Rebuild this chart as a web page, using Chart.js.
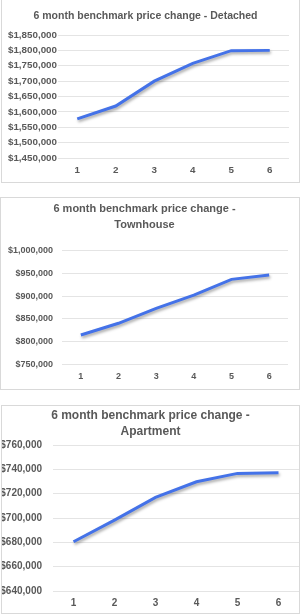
<!DOCTYPE html>
<html lang="en">
<head>
    <meta charset="UTF-8">
    <title>6 month benchmark price change</title>
    <script src="https://cdn.jsdelivr.net/npm/chart.js"></script>
    <style>
        body {
            margin: 0;
            background: #fff;
            font-family: "Liberation Sans", Arial, sans-serif;
        }
        .box {
            position: absolute;
            box-sizing: border-box;
            border: 1px solid #d9d9d9;
            background: #fff;
        }
        .box canvas {
            display: block;
        }
    </style>
</head>
<body>
    <div class="box" style="left:1px; top:-1px; width:299px; height:184px;">
        <canvas id="detachedChart" width="297" height="182"></canvas>
    </div>
    <div class="box" style="left:0px; top:197px; width:300px; height:193px;">
        <canvas id="townhouseChart" width="298" height="191"></canvas>
    </div>
    <div class="box" style="left:1px; top:405px; width:299px; height:209px;">
        <canvas id="apartmentChart" width="297" height="207"></canvas>
    </div>

    <script>
        // months on the x axis
        const months = ['1', '2', '3', '4', '5', '6'];

        // benchmark prices
        const detached = [1577000, 1619000, 1700000, 1758000, 1799000, 1800000];
        const townhouse = [815000, 840500, 873000, 902000, 936500, 946000];
        const apartment = [680500, 698300, 717000, 729800, 736700, 737200];

        // y axis range: min, max, step
        const detachedAxis = [1450000, 1850000, 50000];
        const townhouseAxis = [750000, 1000000, 50000];
        const apartmentAxis = [640000, 760000, 20000];

        const textColor = '#595959';
        const lineColor = '#4472e8';

        // soft drop shadow under the line, like the Excel chart
        const lineShadow = {
            id: 'lineShadow',
            beforeDatasetsDraw(chart) {
                const ctx = chart.ctx;
                ctx.save();
                ctx.shadowColor = 'rgba(0, 0, 0, 0.35)';
                ctx.shadowBlur = 3;
                ctx.shadowOffsetX = 1;
                ctx.shadowOffsetY = 2;
            },
            afterDatasetsDraw(chart) {
                chart.ctx.restore();
            }
        };

        function makeChart(id, title, values, axis, cfg) {
            return new Chart(document.getElementById(id), {
                type: 'line',
                data: {
                    labels: months,
                    datasets: [{
                        data: values,
                        borderColor: lineColor,
                        borderWidth: 3,
                        pointRadius: 0,
                        tension: 0,
                        fill: false
                    }]
                },
                options: {
                    responsive: false,
                    animation: false,
                    layout: {
                        padding: { left: 0, top: 0, right: cfg.padRight, bottom: 0 }
                    },
                    plugins: {
                        legend: { display: false },
                        tooltip: { enabled: false },
                        title: {
                            display: true,
                            text: title,
                            color: textColor,
                            font: { family: 'Liberation Sans', size: cfg.titleSize, weight: 'bold', lineHeight: cfg.titleLine },
                            padding: { top: cfg.titleTop, bottom: cfg.titleBottom }
                        }
                    },
                    scales: {
                        x: {
                            offset: true,
                            grid: { display: false, drawTicks: false },
                            border: { display: false },
                            ticks: {
                                color: textColor,
                                padding: cfg.xPad,
                                font: { family: 'Liberation Sans', size: cfg.tickSize, weight: 'bold' }
                            },
                            afterFit: s => { s.height = cfg.xHeight; }
                        },
                        y: {
                            min: axis[0],
                            max: axis[1],
                            grid: { color: '#e4e4e4', lineWidth: 1, drawTicks: false },
                            border: { display: false },
                            ticks: {
                                stepSize: axis[2],
                                autoSkip: false,
                                color: textColor,
                                padding: cfg.yPad,
                                font: { family: 'Liberation Sans', size: cfg.tickSize, weight: 'bold' },
                                callback: v => '$' + v.toLocaleString('en-US')
                            },
                            afterFit: s => { s.width = cfg.yWidth; }
                        }
                    }
                },
                plugins: [lineShadow]
            });
        }

        makeChart('detachedChart', '6 month benchmark price change - Detached', detached, detachedAxis, {
            titleSize: 10.5, titleLine: 1.2, titleTop: 10, titleBottom: 12.4,
            tickSize: 9.8, xPad: 6.1, xHeight: 24, yPad: 1, yWidth: 56,
            padRight: 10
        });

        makeChart('townhouseChart', ['6 month benchmark price change -', 'Townhouse'], townhouse, townhouseAxis, {
            titleSize: 11, titleLine: 1.4545, titleTop: 3, titleBottom: 17.3,
            tickSize: 9, xPad: 6.6, xHeight: 24.3, yPad: 9, yWidth: 61,
            padRight: 11
        });

        makeChart('apartmentChart', ['6 month benchmark price change -', 'Apartment'], apartment, apartmentAxis, {
            titleSize: 12, titleLine: 1.36, titleTop: 1.5, titleBottom: 4.9,
            tickSize: 10, xPad: 6.3, xHeight: 22, yPad: 11, yWidth: 51,
            padRight: 0
        });
    </script>
</body>
</html>
